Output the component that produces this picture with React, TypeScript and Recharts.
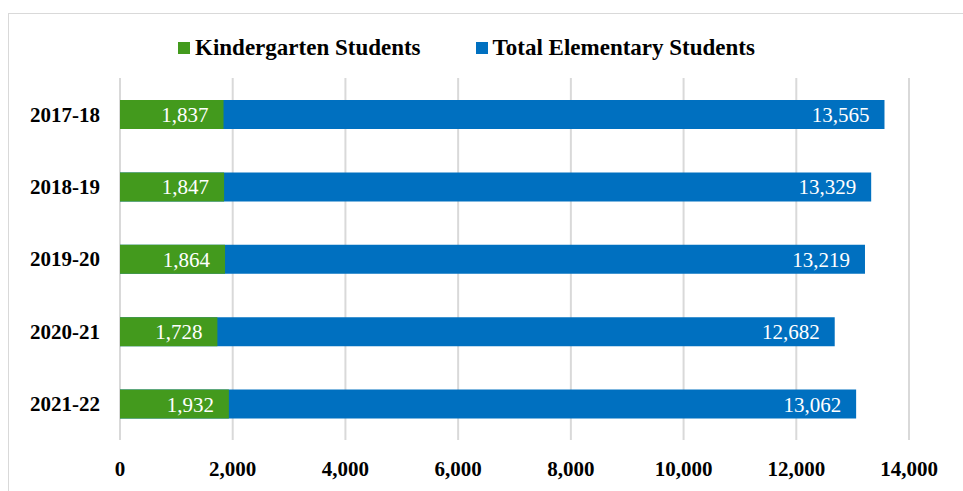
import React from "react";
import { BarChart, Bar, XAxis, YAxis, CartesianGrid, LabelList } from "recharts";

const years = ["2017-18", "2018-19", "2019-20", "2020-21", "2021-22"];
const kindergarten = [1837, 1847, 1864, 1728, 1932];
const totalElementary = [13565, 13329, 13219, 12682, 13062];
const xTicks = [0, 2000, 4000, 6000, 8000, 10000, 12000, 14000];

const series = [
  { key: "kindergarten", name: "Kindergarten Students", color: "#439A1D" },
  { key: "total", name: "Total Elementary Students", color: "#0070C0" },
];

const data = years.map((year, i) => ({
  year,
  kindergarten: kindergarten[i],
  total: totalElementary[i],
}));

const font = "'Liberation Serif', 'Times New Roman', serif";
const fmt = (v: any) => Number(v).toLocaleString("en-US");

export default function App() {
  return (
    <div
      style={{
        position: "fixed",
        left: 0,
        top: 0,
        width: 963,
        height: 491,
        background: "#fff",
        overflow: "hidden",
        fontFamily: font,
      }}
    >
      <div
        style={{
          position: "absolute",
          left: 8,
          top: 13,
          width: 1000,
          height: 600,
          borderLeft: "1px solid #d9d9d9",
          borderTop: "1px solid #d9d9d9",
        }}
      />
      <div
        style={{
          position: "absolute",
          top: 34,
          left: 0,
          width: 963,
          boxSizing: "border-box",
          display: "flex",
          justifyContent: "center",
          paddingRight: 30,
          gap: 55,
          fontSize: 23,
          fontWeight: "bold",
          color: "#000",
          lineHeight: "28px",
        }}
      >
        {series.map((s) => (
          <div key={s.key} style={{ display: "flex", alignItems: "center", gap: 5 }}>
            <span style={{ width: 12, height: 12, background: s.color, display: "inline-block" }} />
            <span>{s.name}</span>
          </div>
        ))}
      </div>
      <BarChart
        width={963}
        height={491}
        data={data}
        layout="vertical"
        margin={{ top: 78, right: 54, bottom: 0, left: 0 }}
        style={{ position: "absolute", left: 0, top: 0 }}
      >
        <CartesianGrid horizontal={false} stroke="#d9d9d9" strokeWidth={2} />
        <XAxis
          type="number"
          domain={[0, 14000]}
          ticks={xTicks}
          tickFormatter={fmt}
          axisLine={false}
          tickLine={false}
          tickSize={6}
          tickMargin={15}
          height={51}
          interval={0}
          tick={{ fill: "#000", fontSize: 21, fontWeight: "bold", fontFamily: font }}
        />
        <YAxis
          yAxisId="t"
          type="category"
          dataKey="year"
          width={120}
          axisLine={false}
          tickLine={false}
          tickSize={0}
          tickMargin={20}
          tick={{ fill: "#000", fontSize: 21, fontWeight: "bold", fontFamily: font }}
        />
        <YAxis yAxisId="k" type="category" dataKey="year" hide width={0} />
        <Bar yAxisId="t" dataKey="total" fill="#0070C0" barSize={29} isAnimationActive={false}>
          <LabelList
            dataKey="total"
            position="insideRight"
            offset={15}
            formatter={fmt}
            fill="#fff"
            style={{ fontSize: 21, fontFamily: font }}
          />
        </Bar>
        <Bar yAxisId="k" dataKey="kindergarten" fill="#439A1D" barSize={29} isAnimationActive={false}>
          <LabelList
            dataKey="kindergarten"
            position="insideRight"
            offset={15}
            formatter={fmt}
            fill="#fff"
            style={{ fontSize: 21, fontFamily: font }}
          />
        </Bar>
      </BarChart>
    </div>
  );
}
